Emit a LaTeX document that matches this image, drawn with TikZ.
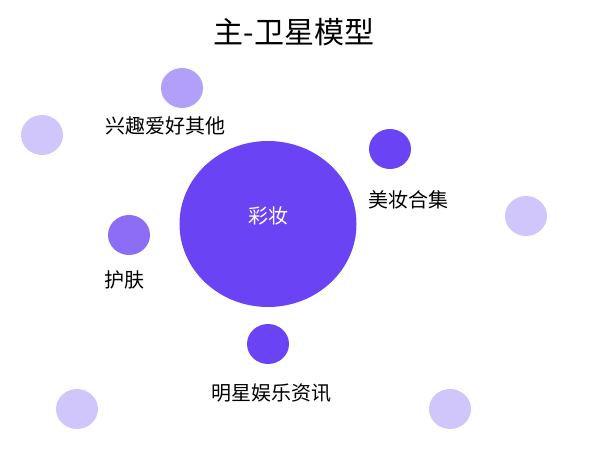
\documentclass[tikz,border=0pt]{standalone}
\usepackage{fontspec}
\setmainfont{Noto Sans CJK SC}
\usetikzlibrary{shapes.geometric}
\begin{document}
\begin{tikzpicture}[x=1pt, y=-1pt,
  sat/.style={ellipse, inner sep=0pt, minimum width=42, minimum height=40},
  lbl/.style={text=black, inner sep=0pt, font=\fontsize{20}{24}\selectfont}]
\useasboundingbox (0,0) rectangle (597,449);
\node[text=black, inner sep=0pt, font=\fontsize{30}{36}\selectfont] (title) at (294,32) {主-卫星模型};
\definecolor{col}{HTML}{6A44F4}
\node[sat, fill=col, minimum width=177, minimum height=166] (caizhuang) at (268,224) {};
\node[lbl, text=white] (caizhuanglbl) at (268,216) {彩妆};
\node[sat, fill=col] (meizhuang) at (390,149) {};
\node[lbl] (meizhuanglbl) at (408,200) {美妆合集};
\node[sat, fill=col] (mingxing) at (268,344) {};
\node[lbl] (mingxinglbl) at (271,393) {明星娱乐资讯};
\definecolor{col}{HTML}{8B6DF6}
\node[sat, fill=col] (hufu) at (129,235) {};
\node[lbl] (hufulbl) at (124,280) {护肤};
\definecolor{col}{HTML}{B19FF9}
\node[sat, fill=col] (xingqu) at (182,88) {};
\node[lbl] (xingqulbl) at (165,126) {兴趣爱好其他};
\definecolor{col}{HTML}{D0C6FC}
\node[sat, fill=col] (leftsat) at (42,135) {};
\node[sat, fill=col] (rightsat) at (526,216) {};
\node[sat, fill=col] (lowleftsat) at (77,409) {};
\node[sat, fill=col] (lowrightsat) at (450,409) {};
\end{tikzpicture}
\end{document}
